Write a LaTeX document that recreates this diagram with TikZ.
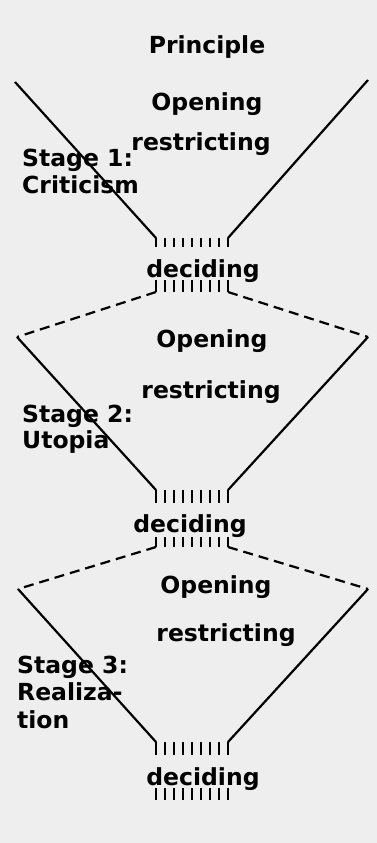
\documentclass[tikz,border=0pt]{standalone}
\usepackage{fontspec}
\setmainfont{DejaVu Sans}
\begin{document}
\begin{tikzpicture}[x=1pt,y=-1pt,
  lbl/.style={font=\bfseries\fontsize{23.5}{27}\selectfont, inner sep=0pt, anchor=base},
  stagelbl/.style={font=\bfseries\fontsize{23.5}{27}\selectfont, inner sep=0pt, anchor=base west},
  solidline/.style={line width=2.2pt, black},
  dashline/.style={line width=2.2pt, black, dash pattern=on 10pt off 6pt},
  hatch/.style={line width=1.7pt, black}]
\fill[fill={rgb,255:red,238;green,238;blue,238}] (0,0) rectangle (377,843);
\useasboundingbox (0,0) rectangle (377,843);

% corner coordinates
\coordinate (t1l) at (15,82);   \coordinate (t1r) at (368,80);
\coordinate (b1l) at (156,238); \coordinate (b1r) at (228,238);
\coordinate (o1l) at (156,292); \coordinate (o1r) at (228,292);
\coordinate (t2l) at (17,337);  \coordinate (t2r) at (368,337);
\coordinate (b2l) at (156,490); \coordinate (b2r) at (228,490);
\coordinate (o2l) at (156,547); \coordinate (o2r) at (228,547);
\coordinate (t3l) at (18,589);  \coordinate (t3r) at (368,589);
\coordinate (b3l) at (156,742); \coordinate (b3r) at (228,742);

% funnels
\draw[solidline] (t1l) -- (b1l);
\draw[solidline] (t1r) -- (b1r);
\draw[dashline] (o1l) -- (t2l);
\draw[dashline] (o1r) -- (t2r);
\draw[solidline] (t2l) -- (b2l);
\draw[solidline] (t2r) -- (b2r);
\draw[dashline] (o2l) -- (t3l);
\draw[dashline] (o2r) -- (t3r);
\draw[solidline] (t3l) -- (b3l);
\draw[solidline] (t3r) -- (b3r);

% hatches
\foreach \ya/\yb in {238/247, 280/292, 490/503, 537/547, 742/755, 788/800}{
  \foreach \i in {0,...,8}{
    \draw[hatch] ({156+\i*9},\ya) -- ({156+\i*9},\yb);
  }
}

% texts
\node[lbl] (principle) at (207,53) {Principle};
\node[lbl] (open1) at (207,110) {Opening};
\node[lbl] (restr1) at (201,150) {restricting};
\node[stagelbl] (stage1) at (22,166) {Stage 1:};
\node[stagelbl] (stage1b) at (22,193) {Criticism};
\node[lbl] (dec1) at (203,277) {deciding};

\node[lbl] (open2) at (212,347) {Opening};
\node[lbl] (restr2) at (211,398) {restricting};
\node[stagelbl] (stage2) at (22,422) {Stage 2:};
\node[stagelbl] (stage2b) at (22,448) {Utopia};
\node[lbl] (dec2) at (190,532) {deciding};

\node[lbl] (open3) at (216,593) {Opening};
\node[lbl] (restr3) at (226,641) {restricting};
\node[stagelbl] (stage3) at (17,673) {Stage 3:};
\node[stagelbl] (stage3b) at (17,700) {Realiza-};
\node[stagelbl] (stage3c) at (17,728) {tion};
\node[lbl] (dec3) at (203,785) {deciding};
\end{tikzpicture}
\end{document}
